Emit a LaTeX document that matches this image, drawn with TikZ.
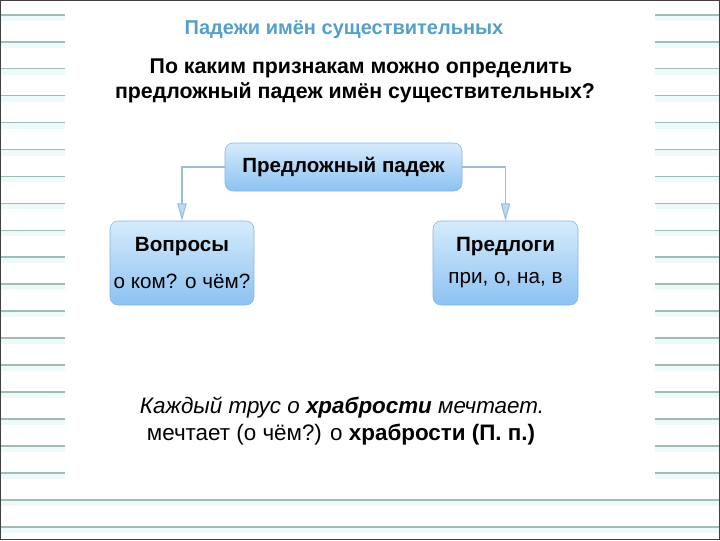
\documentclass[tikz,border=0pt]{standalone}
\usepackage{fontspec}
\setmainfont{Liberation Sans}
\usetikzlibrary{arrows.meta}

\definecolor{ruleline}{RGB}{160,188,180}
\definecolor{ruleband}{RGB}{238,250,250}
\definecolor{titleblue}{RGB}{84,160,200}
\definecolor{boxtop}{RGB}{214,235,252}
\definecolor{boxbottom}{RGB}{140,194,242}
\definecolor{boxedge}{RGB}{130,182,230}
\definecolor{connblue}{RGB}{150,190,225}

\tikzset{
  blockbox/.style={draw=boxedge, rounded corners=6pt, top color=boxtop,
    bottom color=boxbottom, align=center, inner sep=0pt},
  connline/.style={draw=connblue, line width=0.8pt,
    -{Triangle[width=7pt,length=13pt,fill=connblue!60]}},
  headtext/.style={font=\fontsize{16}{19}\selectfont\bfseries}
}

\begin{document}
\begin{tikzpicture}[x=0.75pt, y=-0.75pt]
    \useasboundingbox (0,0) rectangle (720,540);
    \fill[white] (0,0) rectangle (720,540);

    % lined paper
    \foreach \k in {0,...,17} {
      \fill[ruleband] (0,14.7+26.96*\k) rectangle (65,20.7+26.96*\k);
      \fill[ruleband] (655,14.7+26.96*\k) rectangle (720,20.7+26.96*\k);
      \draw[ruleline, line width=1.3pt] (0,14.7+26.96*\k) -- (65,14.7+26.96*\k);
      \draw[ruleline, line width=1.3pt] (655,14.7+26.96*\k) -- (720,14.7+26.96*\k);
    }
    \foreach \k in {18,19} {
      \fill[ruleband] (0,14.7+26.96*\k) rectangle (720,20.7+26.96*\k);
      \draw[ruleline, line width=1.3pt] (0,14.7+26.96*\k) -- (720,14.7+26.96*\k);
    }
    \draw[black!75, line width=0.9pt] (0.5,0.5) rectangle (719.5,539.5);

    % headings
    \node[font=\fontsize{15}{18}\selectfont\bfseries, text=titleblue] (title) at (344,30) {Падежи имён существительных};
    \node[headtext] (quest1) at (361,68) {По каким признакам можно определить};
    \node[headtext] (quest2) at (355,93) {предложный падеж имён существительных?};

    % boxes
    \node[blockbox, minimum width=177.75pt, minimum height=36pt, font=\fontsize{15.4}{18}\selectfont\bfseries] (casebox) at (343.5,167) {Предложный падеж};
    \node[blockbox, minimum width=108pt, minimum height=63pt, font=\fontsize{15.5}{18}\selectfont] (questbox) at (182,263) {\textbf{Вопросы}\\[10pt]о ком? о чём?};
    \node[blockbox, minimum width=108.75pt, minimum height=63pt, font=\fontsize{15.5}{18}\selectfont] (prepbox) at (505.5,263) {\textbf{Предлоги}\\[6pt]при, о, на, в};

    \draw[connline] (casebox.west) -| (questbox.north);
    \draw[connline] (casebox.east) -| (prepbox.north);

    % example
    \node[font=\fontsize{16.8}{20}\selectfont\itshape] (example1) at (342,408) {Каждый трус о \textbf{храбрости} мечтает.};
    \node[font=\fontsize{16.8}{20}\selectfont] (example2) at (341,435) {мечтает (о чём?) о \textbf{храбрости (П.~п.)}};
\end{tikzpicture}
\end{document}
